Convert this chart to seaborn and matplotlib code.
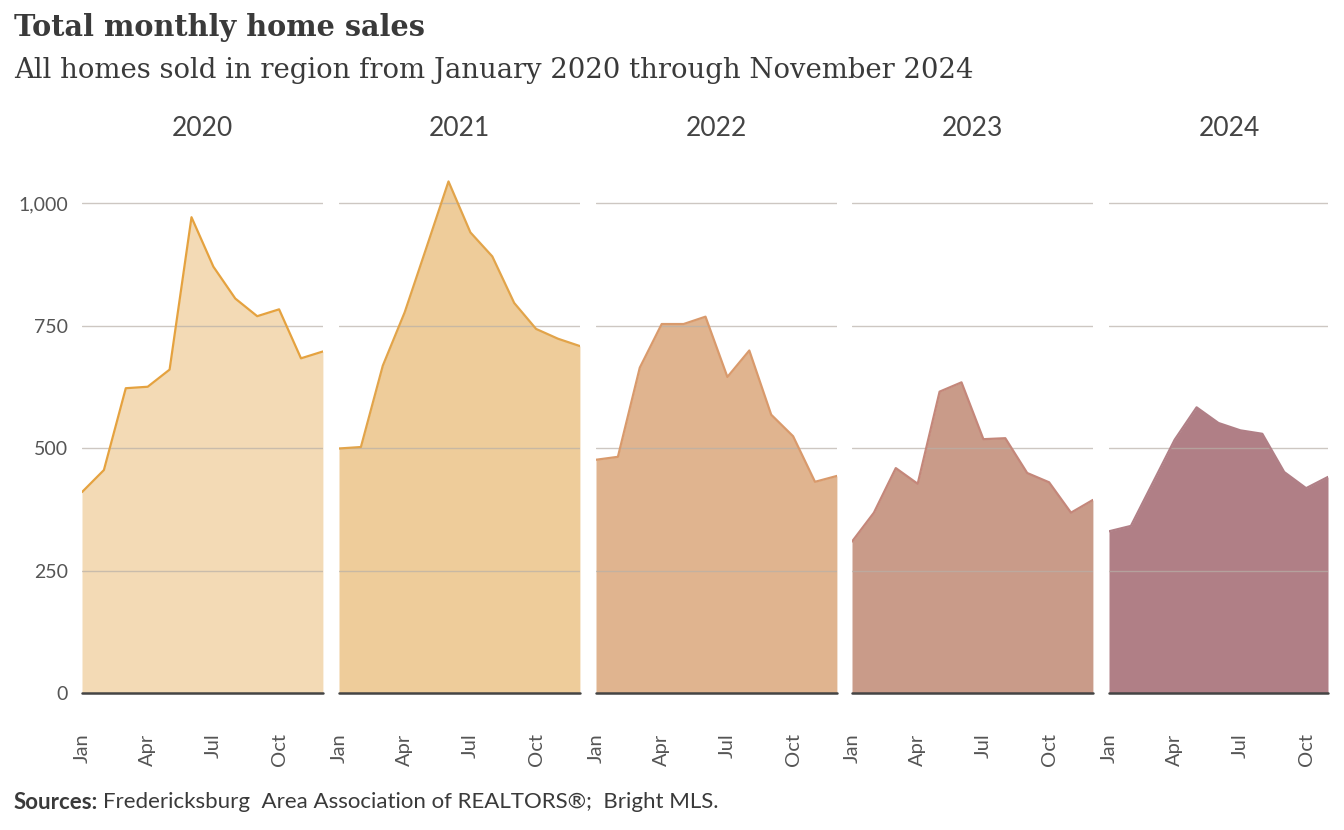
import matplotlib
matplotlib.use("Agg")
import matplotlib.pyplot as plt
import seaborn as sns
import pandas as pd

sns.set_theme(style="white")
plt.rcParams['font.family'] = ['Lato', 'DejaVu Sans']

years = ["2020", "2021", "2022", "2023", "2024"]
month_ticks = [1, 4, 7, 10]
month_labels = ["Jan", "Apr", "Jul", "Oct"]
y_ticks = [0, 250, 500, 750, 1000]
y_labels = ["0", "250", "500", "750", "1,000"]

sales_2020 = [410, 455, 622, 625, 660, 971, 870, 805, 769, 783, 683, 697]
sales_2021 = [499, 502, 668, 777, 910, 1044, 940, 891, 796, 743, 723, 708]
sales_2022 = [476, 482, 664, 753, 753, 768, 645, 699, 568, 524, 431, 443]
sales_2023 = [309, 368, 459, 427, 615, 634, 518, 520, 449, 430, 368, 394]
sales_2024 = [330, 341, 429, 517, 583, 551, 536, 529, 451, 418, 441]

series = [sales_2020, sales_2021, sales_2022, sales_2023, sales_2024]
fill_colors = ["#f3dab5", "#eecc9a", "#e0b48f", "#c99b89", "#b07f86"]
line_colors = ["#e5a23f", "#e2a44a", "#d99a6c", "#c4877a", "#b07f86"]

W, H = 1344, 830
fig = plt.figure(figsize=(W / 100, H / 100), dpi=100)

month_px = 21.9
lefts = [82, 339, 596, 852, 1109]
y0_px, top_px = 693, 154
ymax = 1100

for i, (yr, vals) in enumerate(zip(years, series)):
    n = len(vals)
    width_px = (n - 1) * month_px
    ax = fig.add_axes([lefts[i] / W, (H - y0_px) / H, width_px / W, (y0_px - top_px) / H])
    df = pd.DataFrame({"month": list(range(1, n + 1)), "sales": vals})
    ax.fill_between(df["month"], 0, df["sales"], color=fill_colors[i], lw=0, zorder=1)
    sns.lineplot(data=df, x="month", y="sales", ax=ax, color=line_colors[i], lw=1.6, zorder=3)
    ax.set_xlim(1, n)
    ax.set_ylim(0, ymax)
    for t in y_ticks[1:]:
        ax.axhline(t, color="#b8b0a8", lw=1, zorder=2, alpha=0.7)
    ax.axhline(0, color="#444444", lw=1.8, zorder=4, clip_on=False)
    for s in ax.spines.values():
        s.set_visible(False)
    ax.set_xticks(month_ticks)
    ax.set_xticklabels(month_labels, rotation=90, fontsize=14.5, color="#555555", va="top")
    ax.tick_params(axis="x", length=0, pad=29)
    ax.set_yticks(y_ticks)
    if i == 0:
        ax.set_yticklabels(y_labels, fontsize=14, color="#555555")
        ax.tick_params(axis="y", length=0, pad=10)
    else:
        ax.set_yticklabels([])
        ax.tick_params(axis="y", length=0)
    ax.set_xlabel("")
    ax.set_ylabel("")
    ax.grid(False)
    cx = (lefts[i] + 11 * month_px / 2) / W
    fig.text(cx, 1 - 128 / H, yr, ha="center", va="center", fontsize=19, color="#444444")

fig.text(14 / W, 1 - 27 / H, "Total monthly home sales", fontsize=20.7, fontweight="bold",
         family=["DejaVu Serif"], color="#3a3a3a", va="center", ha="left")
fig.text(14 / W, 1 - 70 / H, "All homes sold in region from January 2020 through November 2024",
         fontsize=19.8, family=["DejaVu Serif"], color="#3a3a3a", va="center", ha="left")
t1 = fig.text(14 / W, 1 - 802 / H, "Sources:", fontsize=16, fontweight="bold", color="#3a3a3a",
              va="center", ha="left")
fig.canvas.draw()
bb = t1.get_window_extent()
fig.text((bb.x1 + 5) / W, 1 - 802 / H, "Fredericksburg  Area Association of REALTORS®;  Bright MLS.",
         fontsize=16, color="#3a3a3a", va="center", ha="left")

fig.savefig("out.png", dpi=100)
